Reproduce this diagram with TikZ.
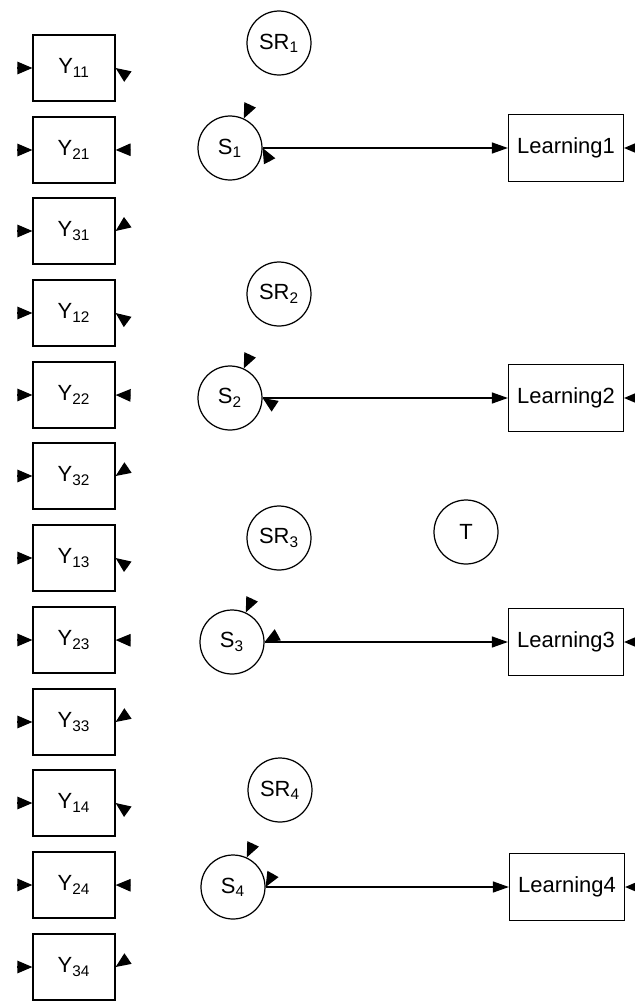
\documentclass[tikz,border=0pt]{standalone}
\usepackage{fontspec}
\setmainfont{Liberation Sans}
\usetikzlibrary{arrows.meta,calc}

\begin{document}
\begin{tikzpicture}[
        x=0.02cm, y=-0.02cm,
        obs/.style={draw, line width=0.7pt, minimum width=1.64cm, minimum height=1.32cm, inner sep=0pt, font=\fontsize{12.5}{15}\selectfont},
        outc/.style={obs, minimum width=2.3cm, minimum height=1.34cm},
        latent/.style={draw, circle, line width=0.7pt, minimum size=1.28cm, inner sep=0pt, font=\fontsize{12.5}{15}\selectfont},
        arrow/.style={line width=0.7pt, -{Triangle[length=0.32cm, width=0.22cm]}},
        head/.style={arrow, -{Triangle[length=0.3cm, width=0.25cm]}}
    ]
        \useasboundingbox (0,0) rectangle (635,1001);

        % Indicators
        \node[obs] (y11) at (74, 68) {Y\textsubscript{11}};
        \node[obs] (y21) at (74, 150) {Y\textsubscript{21}};
        \node[obs] (y31) at (74, 231) {Y\textsubscript{31}};
        \node[obs] (y12) at (74, 313) {Y\textsubscript{12}};
        \node[obs] (y22) at (74, 395) {Y\textsubscript{22}};
        \node[obs] (y32) at (74, 476) {Y\textsubscript{32}};
        \node[obs] (y13) at (74, 558) {Y\textsubscript{13}};
        \node[obs] (y23) at (74, 640) {Y\textsubscript{23}};
        \node[obs] (y33) at (74, 722) {Y\textsubscript{33}};
        \node[obs] (y14) at (74, 803) {Y\textsubscript{14}};
        \node[obs] (y24) at (74, 885) {Y\textsubscript{24}};
        \node[obs] (y34) at (74, 967) {Y\textsubscript{34}};

        % State factors and residuals
        \node[latent] (sr1) at (279, 43) {SR\textsubscript{1}};
        \node[latent] (s1) at (230, 148) {S\textsubscript{1}};
        \node[latent] (sr2) at (279, 294) {SR\textsubscript{2}};
        \node[latent] (s2) at (230, 398) {S\textsubscript{2}};
        \node[latent] (sr3) at (279, 538) {SR\textsubscript{3}};
        \node[latent] (s3) at (232, 642) {S\textsubscript{3}};
        \node[latent] (sr4) at (280, 790) {SR\textsubscript{4}};
        \node[latent] (s4) at (233, 887) {S\textsubscript{4}};

        % Trait
        \node[latent] (t) at (466, 532) {T};

        % Outcomes
        \node[outc] (l1) at (566, 148) {Learning1};
        \node[outc] (l2) at (566, 398) {Learning2};
        \node[outc] (l3) at (566, 642) {Learning3};
        \node[outc] (l4) at (567, 887) {Learning4};

        % Structural paths
        \draw[arrow] (s1) -- (l1);
        \draw[arrow] (s2) -- (l2);
        \draw[arrow] (s3) -- (l3);
        \draw[arrow] (s4) -- (l4);

        % Error heads on indicators
        \draw[head] ($(y11.west)+(-0.3cm,0)$) -- (y11.west);
        \draw[head] ($(y21.west)+(-0.3cm,0)$) -- (y21.west);
        \draw[head] ($(y31.west)+(-0.3cm,0)$) -- (y31.west);
        \draw[head] ($(y12.west)+(-0.3cm,0)$) -- (y12.west);
        \draw[head] ($(y22.west)+(-0.3cm,0)$) -- (y22.west);
        \draw[head] ($(y32.west)+(-0.3cm,0)$) -- (y32.west);
        \draw[head] ($(y13.west)+(-0.3cm,0)$) -- (y13.west);
        \draw[head] ($(y23.west)+(-0.3cm,0)$) -- (y23.west);
        \draw[head] ($(y33.west)+(-0.3cm,0)$) -- (y33.west);
        \draw[head] ($(y14.west)+(-0.3cm,0)$) -- (y14.west);
        \draw[head] ($(y24.west)+(-0.3cm,0)$) -- (y24.west);
        \draw[head] ($(y34.west)+(-0.3cm,0)$) -- (y34.west);

        % Loading heads (state to indicator)
        \draw[head] ($(y11.east)!0.3cm!(s1)$) -- (y11.east);
        \draw[head] ($(y21.east)!0.3cm!(s1)$) -- (y21.east);
        \draw[head] ($(y31.east)!0.3cm!(s1)$) -- (y31.east);
        \draw[head] ($(y12.east)!0.3cm!(s2)$) -- (y12.east);
        \draw[head] ($(y22.east)!0.3cm!(s2)$) -- (y22.east);
        \draw[head] ($(y32.east)!0.3cm!(s2)$) -- (y32.east);
        \draw[head] ($(y13.east)!0.3cm!(s3)$) -- (y13.east);
        \draw[head] ($(y23.east)!0.3cm!(s3)$) -- (y23.east);
        \draw[head] ($(y33.east)!0.3cm!(s3)$) -- (y33.east);
        \draw[head] ($(y14.east)!0.3cm!(s4)$) -- (y14.east);
        \draw[head] ($(y24.east)!0.3cm!(s4)$) -- (y24.east);
        \draw[head] ($(y34.east)!0.3cm!(s4)$) -- (y34.east);

        % Residual heads on states
        \draw[head] ($(s1.65)+(65:0.3cm)$) -- (s1.65);
        \draw[head] ($(s2.65)+(65:0.3cm)$) -- (s2.65);
        \draw[head] ($(s3.65)+(65:0.3cm)$) -- (s3.65);
        \draw[head] ($(s4.65)+(65:0.3cm)$) -- (s4.65);

        % Trait heads on states
        \draw[head] ($(s1.east)!0.3cm!(t)$) -- (s1.east);
        \draw[head] ($(s2.east)!0.3cm!(t)$) -- (s2.east);
        \draw[head] ($(s3.east)!0.3cm!(t)$) -- (s3.east);
        \draw[head] ($(s4.east)!0.3cm!(t)$) -- (s4.east);

        % Error heads on outcomes
        \draw[head] ($(l1.east)+(0.3cm,0)$) -- (l1.east);
        \draw[head] ($(l2.east)+(0.3cm,0)$) -- (l2.east);
        \draw[head] ($(l3.east)+(0.3cm,0)$) -- (l3.east);
        \draw[head] ($(l4.east)+(0.3cm,0)$) -- (l4.east);
    \end{tikzpicture}
\end{document}
